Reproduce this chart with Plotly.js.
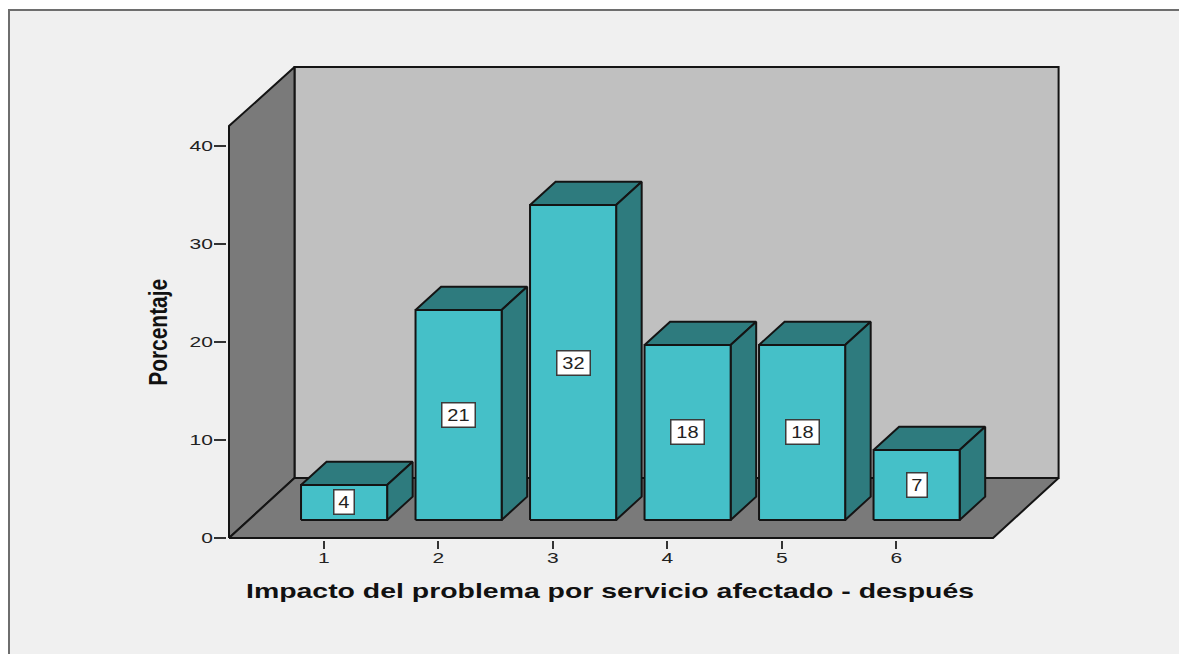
<!DOCTYPE html>
<html>
<head>
<meta charset="utf-8">
<script src="https://cdn.plot.ly/plotly-3.0.1.min.js"></script>
<style>
  html, body { margin: 0; padding: 0; background: #ffffff; overflow: hidden; }
  #frame { position: absolute; left: 8px; top: 9px; width: 1171px; height: 645px; box-sizing: border-box;
           background: #f0f0f0; border-left: 2px solid #6e6e6e; border-top: 2px solid #6e6e6e; }
  #chart { position: absolute; left: 0; top: 0; width: 1179px; height: 654px; }
</style>
</head>
<body>
<div id="frame"></div>
<div id="chart"></div>
<script>
// Impact per affected service, share of respondents (%)
const categories = [1, 2, 3, 4, 5, 6];
const percentages = [3.57, 21.43, 32.14, 17.86, 17.86, 7.14];
const yTicks = [0, 10, 20, 30, 40];
const xTitle = 'Impacto del problema por servicio afectado - después';
const yTitle = 'Porcentaje';

// Fake-3D box: all depth offsets are expressed in axis units
const xMin = 0.173, xMax = 6.846, yMax = 42.04;
const wallDX = 0.572, wallDY = 6.12;      // depth of the floor / walls
const barDX = 0.223, barDY = 2.38;        // depth of each bar
const barInX = 0.178, barInY = 1.84;      // bar footprint offset from the front edge
const barHalf = 0.376;

const INK = '#141414';
const WALL_BACK = '#c0c0c0', WALL_SIDE = '#7a7a7a';
const BAR_FRONT = '#45c0c8', BAR_SHADE = '#2e7b7e';
const LABEL_FONT = 'Liberation Sans, Arial, sans-serif';

function face(xs, ys, color, width) {
  return {
    type: 'scatter', mode: 'lines', hoverinfo: 'skip', showlegend: false,
    x: xs.concat(xs[0]), y: ys.concat(ys[0]), fill: 'toself', fillcolor: color,
    line: { color: INK, width: width === undefined ? 2 : width }
  };
}

const traces = [
  // back wall
  face([xMin + wallDX, xMax + wallDX, xMax + wallDX, xMin + wallDX],
       [wallDY, wallDY, yMax + wallDY - 0.1, yMax + wallDY - 0.1], WALL_BACK),
  // side wall
  face([xMin, xMin + wallDX, xMin + wallDX, xMin],
       [0, wallDY, yMax + wallDY - 0.1, yMax], WALL_SIDE),
  // floor
  face([xMin, xMax, xMax + wallDX, xMin + wallDX],
       [0, 0, wallDY, wallDY], WALL_SIDE)
];

// Each bar: top, side and front faces
categories.forEach((c, i) => {
  const l = c + barInX - barHalf, r = c + barInX + barHalf;
  const b = barInY, t = barInY + percentages[i];
  traces.push(face([l, r, r + barDX, l + barDX], [t, t, t + barDY, t + barDY], BAR_SHADE));
  traces.push(face([r, r + barDX, r + barDX, r], [b, b + barDY, t + barDY, t], BAR_SHADE));
  traces.push(face([l, r, r, l], [b, b, t, t], BAR_FRONT));
});

// Value tags centred on the front face of each bar
const tags = categories.map((c, i) => {
  const text = String(Math.round(percentages[i]));
  return {
    x: c + barInX, y: barInY + percentages[i] / 2, xref: 'x', yref: 'y',
    text, showarrow: false, width: text.length > 1 ? 28 : 15, height: 19,
    font: { family: LABEL_FONT, size: 16, color: '#222222' },
    bgcolor: '#ffffff', bordercolor: '#3a3a3a', borderwidth: 1.5, borderpad: 2
  };
});

// Axis captions sit on the front plane of the box, not the full extent of the walls
const captions = [
  { text: xTitle, xref: 'x', x: 3.5, yref: 'paper', y: 0, yshift: -64, showarrow: false,
    font: { family: LABEL_FONT, size: 21, weight: 700, color: '#111111' } },
  { text: yTitle, xref: 'paper', x: 0, xshift: -85, yref: 'y', y: 21, showarrow: false, textangle: -90,
    font: { family: LABEL_FONT, size: 25, weight: 700, color: '#111111' } }
];

const layout = {
  width: 1179, height: 654,
  margin: { l: 227, r: 114, t: 60, b: 114 },
  paper_bgcolor: 'rgba(0,0,0,0)', plot_bgcolor: 'rgba(0,0,0,0)',
  font: { family: LABEL_FONT, color: '#222222' },
  xaxis: {
    range: [0.1555, 7.474], tickmode: 'array', tickvals: categories, ticktext: categories.map(String),
    ticks: 'outside', ticklen: 8, tickwidth: 2, tickcolor: '#333333', ticklabelstandoff: -4,
    showgrid: false, zeroline: false, showline: false,
    tickfont: { size: 15, family: LABEL_FONT, color: '#222222' }
  },
  yaxis: {
    range: [-0.204, 48.78], tickmode: 'array', tickvals: yTicks, ticktext: yTicks.map(String),
    ticks: 'outside', ticklen: 12, tickwidth: 2, tickcolor: '#333333', ticklabelstandoff: -2,
    showgrid: false, zeroline: false, showline: false,
    tickfont: { size: 15, family: LABEL_FONT, color: '#222222' }
  },
  annotations: tags.concat(captions)
};

// The fonts of this chart are drawn wider than their natural metrics; stretch the glyphs
function stretch(el, width) {
  el.setAttribute('textLength', width);
  el.setAttribute('lengthAdjust', 'spacingAndGlyphs');
}

Plotly.newPlot('chart', traces, layout, { displayModeBar: false, staticPlot: true }).then(() => {
  document.querySelectorAll('#chart .xtick text, #chart .ytick text').forEach(el => {
    stretch(el, el.getComputedTextLength() * 1.4);
  });
  document.querySelectorAll('#chart .annotation-text').forEach(el => {
    const t = el.textContent;
    if (t === xTitle) stretch(el, 728);
    else if (t === yTitle) stretch(el, 107);
    else stretch(el, el.getComputedTextLength() * 1.25);
  });
});
</script>
</body>
</html>
